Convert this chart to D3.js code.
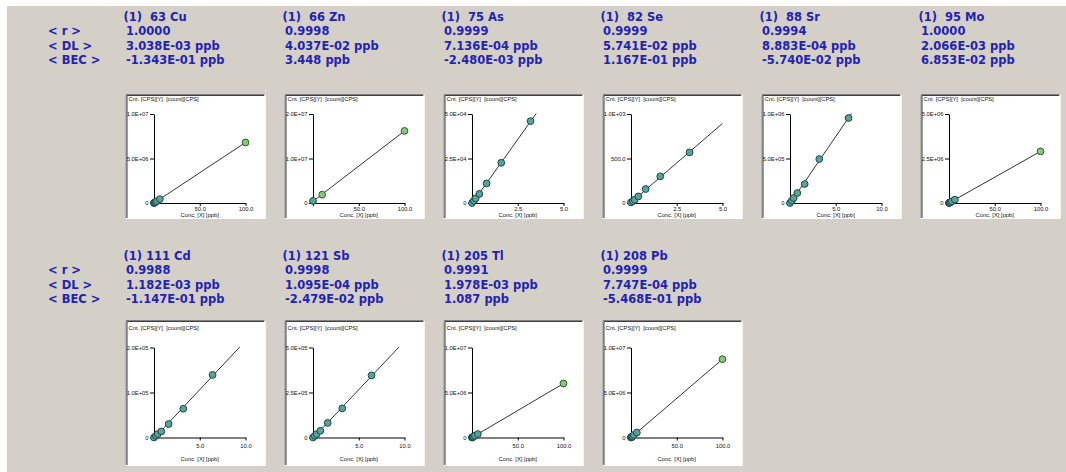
<!DOCTYPE html>
<html><head><meta charset="utf-8">
<script src="https://cdn.jsdelivr.net/npm/d3@7"></script>
<style>html,body{margin:0;padding:0;background:#fff;} svg{display:block;} text{white-space:pre;}</style>
</head><body><svg id="c" width="1066" height="472"></svg>
<script>
// ---------- data ----------
const elements = ["(1)  63 Cu","(1)  66 Zn","(1)  75 As","(1)  82 Se","(1)  88 Sr","(1)  95 Mo","(1) 111 Cd","(1) 121 Sb","(1) 205 Tl","(1) 208 Pb"];
const rValues = ["1.0000","0.9998","0.9999","0.9999","0.9994","1.0000","0.9988","0.9998","0.9991","0.9999"];
const dlValues = ["3.038E-03 ppb","4.037E-02 ppb","7.136E-04 ppb","5.741E-02 ppb","8.883E-04 ppb","2.066E-03 ppb","1.182E-03 ppb","1.095E-04 ppb","1.978E-03 ppb","7.747E-04 ppb"];
const becValues = ["-1.343E-01 ppb","3.448 ppb","-2.480E-03 ppb","1.167E-01 ppb","-5.740E-02 ppb","6.853E-02 ppb","-1.147E-01 ppb","-2.479E-02 ppb","1.087 ppb","-5.468E-01 ppb"];
const rowLabels = ["< r >","< DL >","< BEC >"];
const xMax = [100,100,5,5,10,100,10,10,100,100];
const yMax = [1e7,2e7,5e4,1e3,1e6,5e6,2e5,5e5,1e7,1e7];
const xTickLabels = [
  ["0","50.0","100.0"],["0","50.0","100.0"],["0","2.5","5.0"],["0","2.5","5.0"],["0","5.0","10.0"],
  ["0","50.0","100.0"],["0","5.0","10.0"],["0","5.0","10.0"],["0","50.0","100.0"],["0","50.0","100.0"]];
const yTickLabels = [
  ["0","5.0E+06","1.0E+07"],["0","1.0E+07","2.0E+07"],["0","2.5E+04","5.0E+04"],["0","500.0","1.0E+03"],["0","5.0E+05","1.0E+06"],
  ["0","2.5E+06","5.0E+06"],["0","1.0E+05","2.0E+05"],["0","2.5E+05","5.0E+05"],["0","5.0E+06","1.0E+07"],["0","5.0E+06","1.0E+07"]];
const yAxisTitle = "Cnt. [CPS][Y]  [count][CPS]";
const xAxisTitle = "Conc. [X] [ppb]";

const cuConc = [0,0.2,0.4,0.8,1.6,3.2,6.4,100];
const cuCounts = [0,1.4e4,2.7e4,5.4e4,1.09e5,2.18e5,4.35e5,6.8e6];
const znConc = [0,10,100];
const znCounts = [4.8e5,1.87e6,1.62e7];
const asConc = [0,0.1,0.2,0.4,0.8,1.6,3.2];
const asCounts = [0,1.3e3,2.6e3,5.1e3,1.1e4,2.26e4,4.6e4];
const seConc = [0,0.1,0.2,0.4,0.8,1.6,3.2];
const seCounts = [7,20,37,74,157,299,569];
const srConc = [0,0.2,0.4,0.8,1.6,3.2,6.4];
const srCounts = [0,2.6e4,5.6e4,1.12e5,2.13e5,4.94e5,9.55e5];
const moConc = [0,0.2,0.4,0.8,1.6,3.2,6.4,100];
const moCounts = [0,5.8e3,1.2e4,2.3e4,4.6e4,9.3e4,1.86e5,2.9e6];
const cdConc = [0,0.2,0.4,0.8,1.6,3.2,6.4];
const cdCounts = [0,3.8e3,7.6e3,1.34e4,3.0e4,6.4e4,1.39e5];
const sbConc = [0,0.2,0.4,0.8,1.6,3.2,6.4];
const sbCounts = [0,9.5e3,1.9e4,3.7e4,8.1e4,1.62e5,3.45e5];
const tlConc = [0,0.2,0.4,0.8,1.6,3.2,6.4,100];
const tlCounts = [0,1.2e4,2.4e4,4.8e4,9.6e4,1.92e5,3.84e5,6.0e6];
const pbConc = [0,0.2,0.4,0.8,1.6,3.2,6.4,100];
const pbCounts = [0,1.7e4,3.5e4,7.0e4,1.39e5,2.78e5,5.57e5,8.7e6];

const concs = [cuConc,znConc,asConc,seConc,srConc,moConc,cdConc,sbConc,tlConc,pbConc];
const counts = [cuCounts,znCounts,asCounts,seCounts,srCounts,moCounts,cdCounts,sbCounts,tlCounts,pbCounts];

// ---------- layout ----------
const svg = d3.select("#c");
const BG = "#d4d0c8", BLUE = "#2222b4";
svg.append("rect").attr("x",0).attr("y",0).attr("width",1066).attr("height",472).attr("fill","#fff");
svg.append("rect").attr("x",7).attr("y",6).attr("width",1059).attr("height",466).attr("fill",BG);

const colX0 = 125.5, colStep = 159;
// per-row geometry
const rows = [
  {textTop: 17, frameTop: 94, frameH: 125, OY: 109, YS: 89, hdr: 5, tickPad: 1, concDy: 11.5},
  {textTop: 256, frameTop: 320, frameH: 146, OY: 117.5, YS: 90, hdr: 8, tickPad: 3, concDy: 21}
];
const FW = 140, OX = 28.5, XS = 91.5;
const bold = "'DejaVu Sans', Verdana, sans-serif";
const small = "'Liberation Sans', Arial, sans-serif";
const lineGap = 14.3;

rows.forEach(R => {
  rowLabels.forEach((t,k) => {
    svg.append("text").attr("x",48).attr("y",R.textTop + (k+1)*lineGap).attr("dy","0.36em")
      .attr("font-family",bold).attr("font-weight","bold").attr("font-size",11.5)
      .attr("fill",BLUE).text(t);
  });
});

elements.forEach((name,i) => {
  const R = rows[i < 6 ? 0 : 1], col = i < 6 ? i : i-6;
  const fx = colX0 + col*colStep, fy = R.frameTop, FH = R.frameH;
  const g = svg.append("g");
  const txt = (x,y,t) => g.append("text").attr("x",x).attr("y",y).attr("dy","0.36em")
      .attr("font-family",bold).attr("font-weight","bold").attr("font-size",11.5).attr("fill",BLUE).text(t);
  txt(fx-2, R.textTop, name);
  txt(fx+0.5, R.textTop+lineGap, rValues[i]);
  txt(fx+0.5, R.textTop+2*lineGap, dlValues[i]);
  txt(fx+0.5, R.textTop+3*lineGap, becValues[i]);

  // frame (sunken)
  g.append("rect").attr("x",fx).attr("y",fy).attr("width",FW).attr("height",FH).attr("fill","#fff");
  g.append("path").attr("d",`M${fx+0.5},${fy+FH}V${fy+0.5}H${fx+FW}`).attr("stroke","#808080").attr("fill","none");
  g.append("path").attr("d",`M${fx+1.5},${fy+FH-1}V${fy+1.5}H${fx+FW-1}`).attr("stroke","#404040").attr("fill","none");
  g.append("path").attr("d",`M${fx},${fy+FH-0.5}H${fx+FW-0.5}V${fy}`).attr("stroke","#ffffff").attr("fill","none");

  g.append("text").attr("x",fx+3).attr("y",fy+R.hdr).attr("dy","0.35em")
    .attr("font-family",small).attr("font-size",5.8).attr("fill","#111").text(yAxisTitle);

  const ox = fx+OX, oy = fy+R.OY;
  const x = d3.scaleLinear().domain([0,xMax[i]]).range([ox, ox+XS]);
  const y = d3.scaleLinear().domain([0,yMax[i]]).range([oy, oy-R.YS]);

  const ya = g.append("g").attr("transform",`translate(${ox},0)`)
    .call(d3.axisLeft(y).tickValues([0,yMax[i]/2,yMax[i]]).tickFormat((d,k)=>yTickLabels[i][k]).tickSize(4).tickPadding(1.5).tickSizeOuter(0));
  const xa = g.append("g").attr("transform",`translate(0,${oy})`)
    .call(d3.axisBottom(x).tickValues([0,xMax[i]/2,xMax[i]]).tickFormat((d,k)=>xTickLabels[i][k]).tickSize(3).tickPadding(R.tickPad).tickSizeOuter(0));
  [ya,xa].forEach(a => {
    a.select(".domain").attr("stroke","#000");
    a.selectAll(".tick line").attr("stroke","#000");
    a.selectAll(".tick text").attr("font-family",small).attr("font-size",5.8).attr("fill","#111");
  });
  xa.selectAll(".tick").filter((d,k)=>k===0).select("text").remove();

  g.append("text").attr("x",ox+XS/2).attr("y",oy+R.concDy).attr("dy","0.35em").attr("text-anchor","middle")
    .attr("font-family",small).attr("font-size",5.8).attr("fill","#111").text(xAxisTitle);

  // regression line
  const xs = concs[i], ys = counts[i];
  const mx = d3.mean(xs), my = d3.mean(ys);
  const slope = d3.sum(xs,(v,k)=>(v-mx)*(ys[k]-my)) / d3.sum(xs,v=>(v-mx)*(v-mx));
  const icpt = my - slope*mx;
  const clipId = "clip"+i;
  g.append("clipPath").attr("id",clipId).append("rect")
    .attr("x",ox).attr("y",oy-R.YS-0.5).attr("width",XS+0.5).attr("height",R.YS+0.5);
  g.append("line").attr("clip-path",`url(#${clipId})`)
    .attr("x1",x(0)).attr("y1",y(icpt)).attr("x2",x(xMax[i])).attr("y2",y(icpt+slope*xMax[i]))
    .attr("stroke","#333").attr("stroke-width",1);

  g.selectAll("circle.pt").data(xs.map((v,k)=>[v,ys[k]])).enter().append("circle")
    .attr("cx",d=>x(d[0])).attr("cy",d=>y(d[1])).attr("r",3.4)
    .attr("fill",d=>d[0]>=10 ? "#86c877" : "#5aa29c")
    .attr("stroke",d=>d[0]>=10 ? "#2d5e28" : "#1d4a46").attr("stroke-width",1);
});
</script></body></html>
